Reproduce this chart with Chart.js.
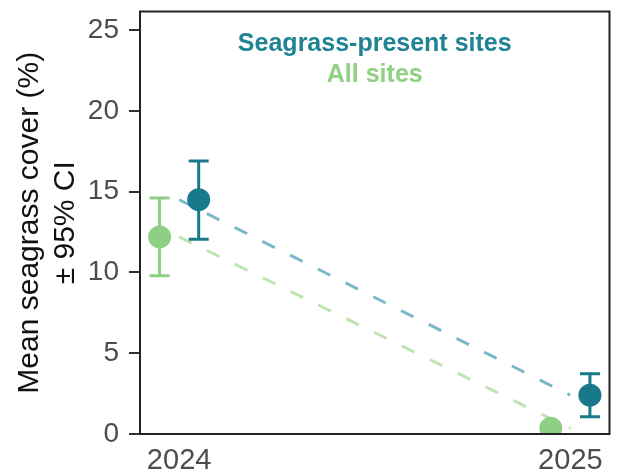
<!DOCTYPE html>
<html>
<head>
<meta charset="utf-8">
<script src="https://cdn.jsdelivr.net/npm/chart.js@4"></script>
<style>
  html, body { margin: 0; padding: 0; background: #fff; }
</style>
</head>
<body>
<canvas id="myChart" width="621" height="472"></canvas>
<script>
// data
const years = [2024, 2025];
const allMean = [12.2, 0.35];
const allLow = [9.8, 0.1];
const allHigh = [14.6, 0.6];
const presentMean = [14.5, 2.4];
const presentLow = [12.05, 1.07];
const presentHigh = [16.9, 3.73];
const yTicks = [0, 5, 10, 15, 20, 25];
const legendLabels = ['Seagrass-present sites', 'All sites'];
const yTitle = ['Mean seagrass cover (%)', '\u00b1 95% CI'];

const dodge = 0.05;
const tealDark = '#18798b';
const tealLight = '#7db8c6';
const greenDark = '#8fcf85';
const greenLight = '#bde4b2';

Chart.defaults.font.family = "'Liberation Sans', Arial, sans-serif";

let pts = (means, shift) => means.map((v, i) => ({x: years[i] + shift, y: v}));

// no extra room for the end labels, the plot box is fixed
let noPad = (s) => { s.paddingTop = 0; s.paddingBottom = 0; s.paddingLeft = 0; s.paddingRight = 0; };

// error bars, drawn just before the points of a series
const errorBars = {
    id: 'errorBars',
    beforeDatasetDraw(chart, args) {
        const ds = chart.data.datasets[args.index];
        if (!ds.ci) return;
        const {ctx, chartArea, scales} = chart;
        ctx.save();
        ctx.beginPath();
        ctx.rect(chartArea.left, chartArea.top, chartArea.right - chartArea.left, chartArea.bottom - chartArea.top);
        ctx.clip();
        ctx.strokeStyle = ds.backgroundColor;
        ctx.lineWidth = 3;
        ds.data.forEach((p, i) => {
            const x = scales.x.getPixelForValue(p.x);
            const y1 = scales.y.getPixelForValue(ds.ci.low[i]);
            const y2 = scales.y.getPixelForValue(ds.ci.high[i]);
            ctx.beginPath();
            ctx.moveTo(x, y1); ctx.lineTo(x, y2);
            ctx.moveTo(x - 10, y1); ctx.lineTo(x + 10, y1);
            ctx.moveTo(x - 10, y2); ctx.lineTo(x + 10, y2);
            ctx.stroke();
        });
        ctx.restore();
    }
};

// frame round the plot and the coloured labels inside it
const frameAndLabels = {
    id: 'frameAndLabels',
    afterDraw(chart) {
        const {ctx, chartArea} = chart;
        ctx.save();
        ctx.strokeStyle = '#222';
        ctx.lineWidth = 2;
        ctx.strokeRect(chartArea.left, chartArea.top, chartArea.right - chartArea.left, chartArea.bottom - chartArea.top);
        const cx = (chartArea.left + chartArea.right) / 2;
        ctx.textAlign = 'center';
        ctx.textBaseline = 'alphabetic';
        ctx.font = "bold 25px 'Liberation Sans', Arial, sans-serif";
        ctx.fillStyle = '#1f8394';
        ctx.fillText(legendLabels[0], cx, chartArea.top + 39);
        ctx.fillStyle = '#8fd181';
        ctx.fillText(legendLabels[1], cx, chartArea.top + 70);
        ctx.restore();
    }
};

new Chart('myChart', {
    type: 'scatter',
    data: {
        datasets: [
            {
                type: 'line', data: pts(presentMean, 0), borderColor: tealLight,
                borderWidth: 3, borderDash: [14, 17], pointRadius: 0, order: 3
            },
            {
                type: 'line', data: pts(allMean, 0), borderColor: greenLight,
                borderWidth: 3, borderDash: [14, 17], pointRadius: 0, order: 3
            },
            {
                data: pts(allMean, -dodge), backgroundColor: greenDark, borderWidth: 0,
                pointRadius: 11.5, clip: 0, order: 2, ci: {low: allLow, high: allHigh}
            },
            {
                data: pts(presentMean, dodge), backgroundColor: tealDark, borderWidth: 0,
                pointRadius: 11.5, clip: 0, order: 1, ci: {low: presentLow, high: presentHigh}
            }
        ]
    },
    options: {
        responsive: false,
        animation: false,
        layout: { padding: { top: 6, right: 7, left: 0, bottom: 0 } },
        plugins: {
            legend: { display: false },
            tooltip: { enabled: false }
        },
        scales: {
            x: {
                type: 'linear',
                min: 2023.9,
                max: 2025.1,
                afterBuildTicks: s => { s.ticks = years.map(v => ({value: v})); },
                afterFit: s => { s.height = 38; noPad(s); },
                ticks: {
                    callback: v => String(v),
                    font: { size: 29 },
                    color: '#4d4d4d',
                    padding: 2,
                    maxRotation: 0
                },
                grid: { display: false },
                border: { display: false }
            },
            y: {
                min: 0,
                max: 26.15,
                afterBuildTicks: s => { s.ticks = yTicks.map(v => ({value: v})); },
                afterFit: s => { s.width = 140; noPad(s); },
                ticks: {
                    font: { size: 28 },
                    color: '#4d4d4d',
                    padding: 10
                },
                grid: { drawOnChartArea: false, tickLength: 11, color: '#333', lineWidth: 2 },
                border: { display: false },
                title: {
                    display: true,
                    text: yTitle,
                    font: { size: 30 },
                    color: '#111',
                    padding: { top: 12, bottom: 0 }
                }
            }
        }
    },
    plugins: [errorBars, frameAndLabels]
});
</script>
</body>
</html>
